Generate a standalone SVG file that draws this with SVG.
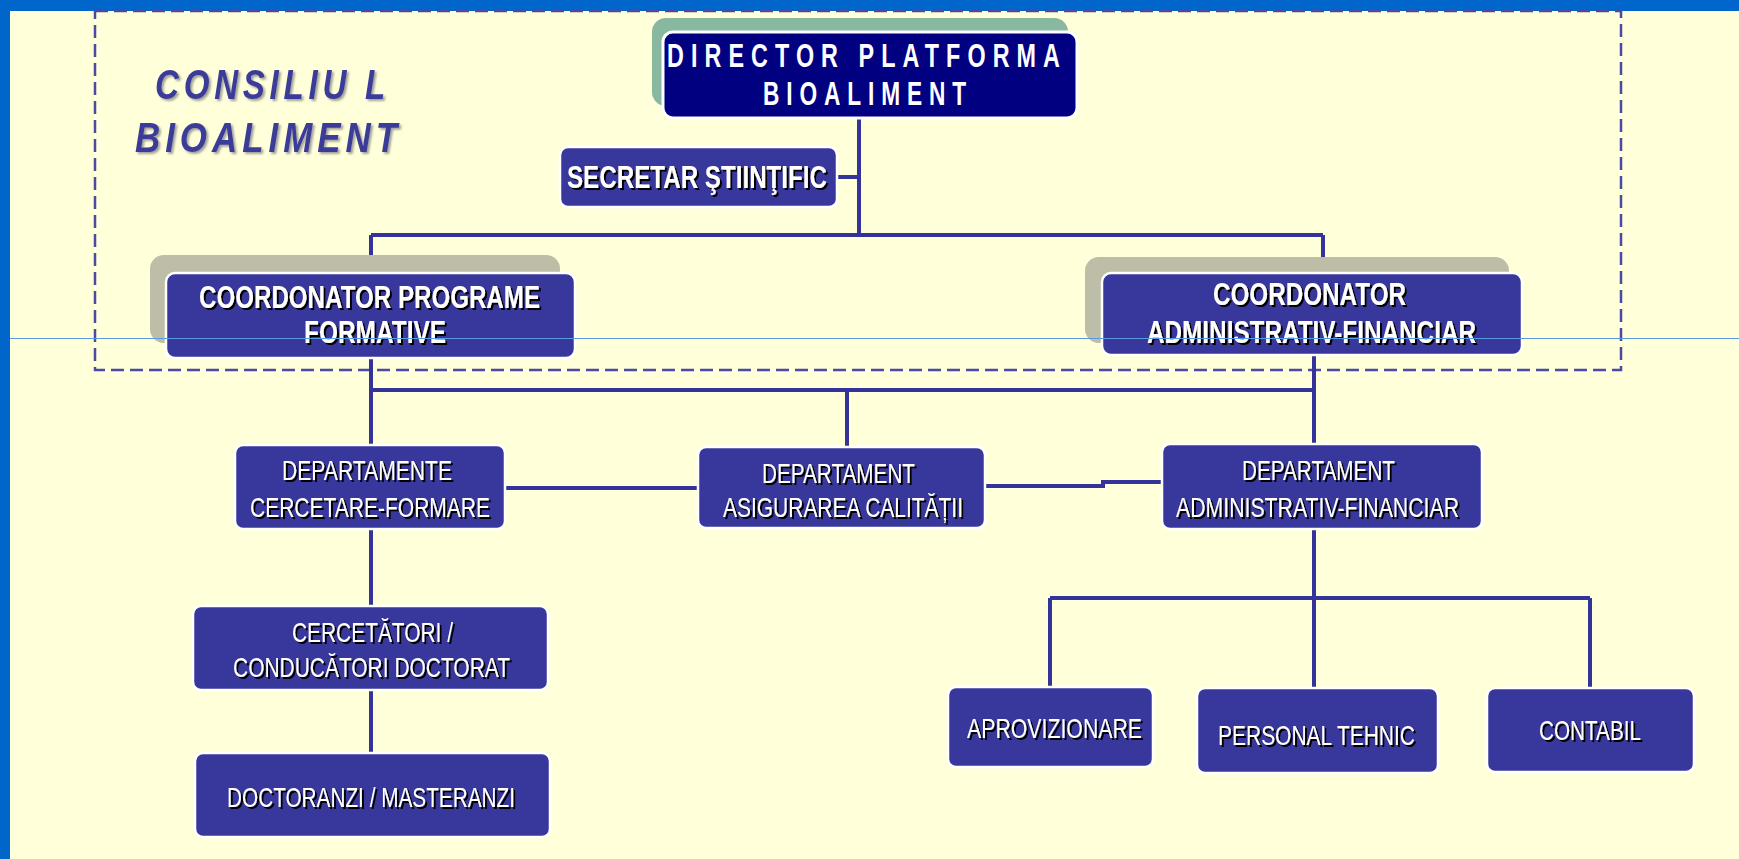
<svg xmlns="http://www.w3.org/2000/svg" width="1739" height="859" viewBox="0 0 1739 859">
<defs>
<style>
.node{fill:#38389c;stroke:#ffffff;stroke-width:2.5}
.dir{fill:#000080;stroke:#ffffff;stroke-width:3}
.con{fill:none;stroke:#333399;stroke-width:4}
.t{font-family:"Liberation Sans",Arial,sans-serif;fill:#ffffff;filter:url(#sh)}
.b{font-weight:bold;font-size:32px}
.n{font-weight:normal;font-size:28px}
.d{font-family:"Liberation Sans",Arial,sans-serif;font-weight:bold;font-size:33px;fill:#ffffff;letter-spacing:10px}
.c{font-family:"Liberation Sans",Arial,sans-serif;font-style:italic;font-weight:bold;font-size:42px;fill:#3a3a9a;letter-spacing:6px;filter:url(#gs)}
</style>
<filter id="sh" x="-5%" y="-20%" width="110%" height="140%"><feDropShadow dx="2" dy="2" stdDeviation="0.3" flood-color="#000000" flood-opacity="1"/></filter>
<filter id="gs" x="-5%" y="-20%" width="110%" height="140%"><feDropShadow dx="2" dy="2" stdDeviation="0.8" flood-color="#8a8a8a" flood-opacity="0.8"/></filter>
</defs>
<rect x="0" y="0" width="1739" height="859" fill="#ffffda"/>
<rect x="0" y="0" width="1739" height="11" fill="#0066cc"/>
<rect x="0" y="0" width="10" height="859" fill="#0066cc"/>
<rect x="95" y="11" width="1526" height="359" fill="none" stroke="#4a4aa0" stroke-width="2.5" stroke-dasharray="13 6"/>

<g id="consiliu">
<text class="c" x="155" y="99" textLength="235" lengthAdjust="spacingAndGlyphs">CONSILIU L</text>
<text class="c" x="135" y="152" textLength="267" lengthAdjust="spacingAndGlyphs">BIOALIMENT</text>
</g>

<g id="connectors">
<path class="con" d="M859 118 V236"/>
<path class="con" d="M837 177 H859"/>
<path class="con" d="M371 235 H1323"/>
<path class="con" d="M371 235 V273"/>
<path class="con" d="M1323 235 V273"/>
<path class="con" d="M371 357 V445"/>
<path class="con" d="M1314 355 V444"/>
<path class="con" d="M371 390 H1314"/>
<path class="con" d="M847 390 V447"/>
<path class="con" d="M505 488 H698"/>
<path class="con" d="M985 486 H1103 V482 H1162"/>
<path class="con" d="M1314 529 V688"/>
<path class="con" d="M1050 598 H1590"/>
<path class="con" d="M1050 598 V687"/>
<path class="con" d="M1590 598 V688"/>
<path class="con" d="M371 529 V606"/>
<path class="con" d="M371 690 V753"/>
</g>

<g id="director">
<rect x="652" y="18" width="416" height="88" rx="14" fill="#88b8a0"/>
<rect class="dir" x="663" y="32" width="414" height="86" rx="10"/>
<text class="d" x="667" y="67" textLength="400" lengthAdjust="spacingAndGlyphs">DIRECTOR PLATFORMA</text>
<text class="d" x="763" y="105" textLength="210" lengthAdjust="spacingAndGlyphs">BIOALIMENT</text>
</g>

<g id="secretar">
<rect class="node" x="560" y="147" width="277" height="60" rx="8"/>
<text class="t b" x="567" y="188" textLength="260" lengthAdjust="spacingAndGlyphs">SECRETAR ŞTIINŢIFIC</text>
</g>

<g id="coord-programe">
<rect x="150" y="255" width="410" height="88" rx="14" fill="#bdbda8"/>
<rect class="node" x="166" y="273" width="409" height="85" rx="9"/>
<text class="t b" x="199" y="308" textLength="341" lengthAdjust="spacingAndGlyphs">COORDONATOR PROGRAME</text>
<text class="t b" x="304" y="343" textLength="142" lengthAdjust="spacingAndGlyphs">FORMATIVE</text>
</g>

<g id="coord-admin">
<rect x="1085" y="257" width="424" height="86" rx="14" fill="#bdbda8"/>
<rect class="node" x="1102" y="273" width="420" height="82" rx="9"/>
<text class="t b" x="1213" y="305" textLength="193" lengthAdjust="spacingAndGlyphs">COORDONATOR</text>
<text class="t b" x="1147" y="343" textLength="329" lengthAdjust="spacingAndGlyphs">ADMINISTRATIV-FINANCIAR</text>
</g>

<g id="dep-cercetare">
<rect class="node" x="235" y="445" width="270" height="84" rx="8"/>
<text class="t n" x="282" y="480" textLength="170" lengthAdjust="spacingAndGlyphs">DEPARTAMENTE</text>
<text class="t n" x="250" y="517" textLength="240" lengthAdjust="spacingAndGlyphs">CERCETARE-FORMARE</text>
</g>

<g id="dep-calitate">
<rect class="node" x="698" y="447" width="287" height="81" rx="8"/>
<text class="t n" x="762" y="483" textLength="153" lengthAdjust="spacingAndGlyphs">DEPARTAMENT</text>
<text class="t n" x="723" y="517" textLength="240" lengthAdjust="spacingAndGlyphs">ASIGURAREA CALITĂȚII</text>
</g>

<g id="dep-admin">
<rect class="node" x="1162" y="444" width="320" height="85" rx="8"/>
<text class="t n" x="1242" y="480" textLength="153" lengthAdjust="spacingAndGlyphs">DEPARTAMENT</text>
<text class="t n" x="1176" y="517" textLength="283" lengthAdjust="spacingAndGlyphs">ADMINISTRATIV-FINANCIAR</text>
</g>

<g id="cercetatori">
<rect class="node" x="193" y="606" width="355" height="84" rx="8"/>
<text class="t n" x="292" y="642" textLength="161" lengthAdjust="spacingAndGlyphs">CERCETĂTORI /</text>
<text class="t n" x="233" y="677" textLength="277" lengthAdjust="spacingAndGlyphs">CONDUCĂTORI DOCTORAT</text>
</g>

<g id="doctoranzi">
<rect class="node" x="195" y="753" width="355" height="84" rx="8"/>
<text class="t n" x="227" y="807" textLength="288" lengthAdjust="spacingAndGlyphs">DOCTORANZI / MASTERANZI</text>
</g>

<g id="aprovizionare">
<rect class="node" x="948" y="687" width="205" height="80" rx="8"/>
<text class="t n" x="967" y="738" textLength="175" lengthAdjust="spacingAndGlyphs">APROVIZIONARE</text>
</g>

<g id="personal">
<rect class="node" x="1197" y="688" width="241" height="85" rx="8"/>
<text class="t n" x="1218" y="745" textLength="197" lengthAdjust="spacingAndGlyphs">PERSONAL TEHNIC</text>
</g>

<g id="contabil">
<rect class="node" x="1487" y="688" width="207" height="84" rx="8"/>
<text class="t n" x="1539" y="740" textLength="102" lengthAdjust="spacingAndGlyphs">CONTABIL</text>
</g>

<line x1="10" y1="338.5" x2="1739" y2="338.5" stroke="#5a9ae0" stroke-width="1"/>
</svg>
